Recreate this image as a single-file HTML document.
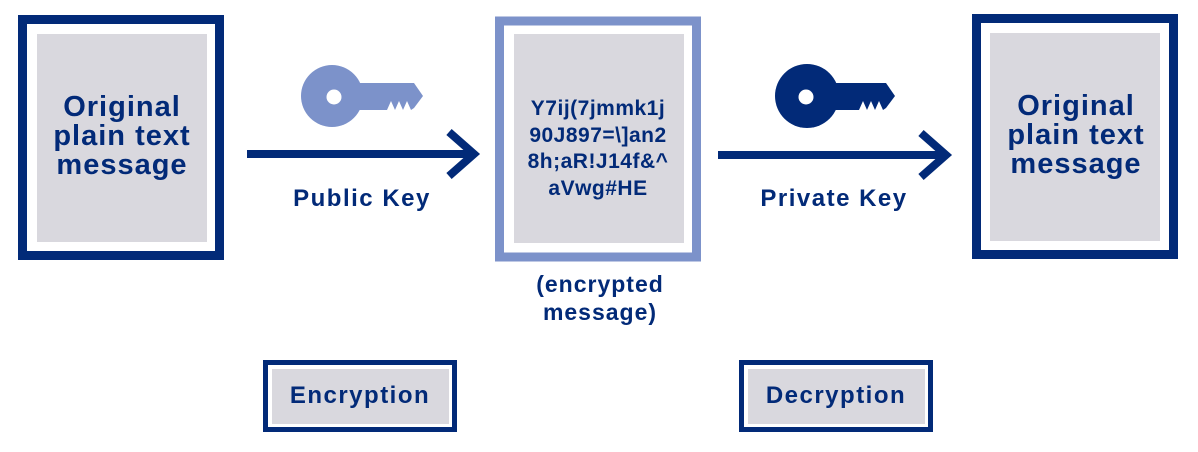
<!DOCTYPE html>
<html><head><meta charset="utf-8"><style>
html,body{margin:0;padding:0;background:#fff;}
svg{display:block;}
text{font-family:"Liberation Sans",Arial,sans-serif;font-weight:bold;fill:#022a78;text-anchor:middle;}
</style></head><body>
<svg width="1198" height="452" viewBox="0 0 1198 452" xmlns="http://www.w3.org/2000/svg">
<rect x="22.5" y="19.5" width="197" height="236" fill="#fff" stroke="#022a78" stroke-width="9"/>
<rect x="37" y="34" width="170" height="208" fill="#d9d8de"/>
<text font-size="29" letter-spacing="1" x="122" y="116">Original</text>
<text font-size="29" letter-spacing="1" x="122" y="145">plain text</text>
<text font-size="29" letter-spacing="1" x="122" y="174">message</text>
<rect x="499.5" y="21" width="197" height="236" fill="#fff" stroke="#7c92ca" stroke-width="9"/>
<rect x="514" y="34" width="170" height="209" fill="#d9d8de"/>
<text font-size="21" letter-spacing="0.5" x="598" y="115">Y7ij(7jmmk1j</text>
<text font-size="21" letter-spacing="0.5" x="598" y="142">90J897=\]an2</text>
<text font-size="21" letter-spacing="0.5" x="598" y="168">8h;aR!J14f&amp;^</text>
<text font-size="21" letter-spacing="0.5" x="598" y="195">aVwg#HE</text>
<text font-size="23" letter-spacing="1" x="600" y="292">(encrypted</text>
<text font-size="23" letter-spacing="1" x="600" y="320">message)</text>
<rect x="976.5" y="18.5" width="197" height="236" fill="#fff" stroke="#022a78" stroke-width="9"/>
<rect x="990" y="33" width="170" height="208" fill="#d9d8de"/>
<text font-size="29" letter-spacing="1" x="1076" y="115">Original</text>
<text font-size="29" letter-spacing="1" x="1076" y="144">plain text</text>
<text font-size="29" letter-spacing="1" x="1076" y="173">message</text>
<line x1="247" y1="154" x2="474" y2="154" stroke="#022a78" stroke-width="8"/>
<polyline points="449,132 474,154 449,176" fill="none" stroke="#022a78" stroke-width="8"/>
<line x1="718" y1="155" x2="946" y2="155" stroke="#022a78" stroke-width="8"/>
<polyline points="921,133 946,155 921,177" fill="none" stroke="#022a78" stroke-width="8"/>
<text font-size="24" letter-spacing="1.5" x="362" y="206">Public Key</text>
<text font-size="24" letter-spacing="1.5" x="834" y="206">Private Key</text>
<g fill="#7c92ca">
<circle cx="332" cy="96" r="31"/>
<path d="M355,83 L414,83 L423,96 L414,108 L411,110 L407,101 L403,110 L399,101 L395,110 L391,101 L387,110 L384,110 L355,110 Z"/>
</g>
<circle cx="334" cy="97" r="7.5" fill="#fff"/>
<g fill="#022a78">
<circle cx="807" cy="96" r="32"/>
<path d="M830,83 L886,83 L895,96 L886,108 L883,110 L879,101 L875,110 L871,101 L867,110 L863,101 L859,110 L855,110 L830,110 Z"/>
</g>
<circle cx="806" cy="97" r="7.5" fill="#fff"/>
<rect x="265.5" y="362.5" width="189" height="67" fill="#fff" stroke="#022a78" stroke-width="5"/>
<rect x="272" y="369" width="177" height="55" fill="#d9d8de"/>
<text font-size="24" letter-spacing="1.5" x="360" y="403">Encryption</text>
<rect x="741.5" y="362.5" width="189" height="67" fill="#fff" stroke="#022a78" stroke-width="5"/>
<rect x="748" y="369" width="177" height="55" fill="#d9d8de"/>
<text font-size="24" letter-spacing="1.5" x="836" y="403">Decryption</text>
</svg>
</body></html>
